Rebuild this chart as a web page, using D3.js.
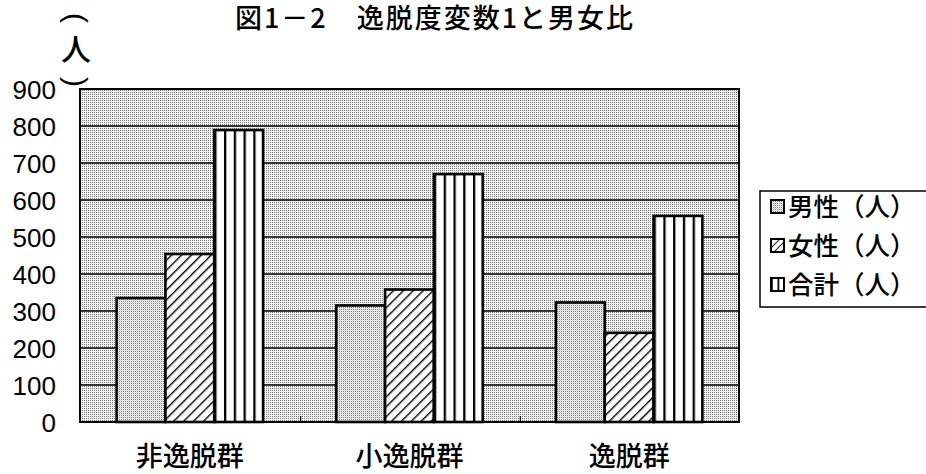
<!DOCTYPE html>
<html><head><meta charset="utf-8">
<script src="https://cdn.jsdelivr.net/npm/d3@7"></script>
<style>
html,body{margin:0;padding:0;background:#fff;}
svg{display:block;}
</style></head>
<body>
<svg id="chart" width="926" height="474"></svg>
<script>
const title = "図1－2　逸脱度変数1と男女比";
const categories = ["非逸脱群", "小逸脱群", "逸脱群"];
const seriesNames = ["男性（人）", "女性（人）", "合計（人）"];
const male = [335, 315, 323];
const female = [454, 358, 241];
const total = [789, 670, 557];
const yTicks = [0, 100, 200, 300, 400, 500, 600, 700, 800, 900];
const yUnit = ["(", "人", ")"];

const svg = d3.select("#chart");
const M = {left: 80, right: 739, top: 89, bottom: 422};
const y = d3.scaleLinear().domain([0, 900]).range([M.bottom, M.top]);
const x0 = d3.scaleBand().domain(categories).range([M.left, M.right]).paddingInner(0).paddingOuter(0);
const x1 = d3.scaleBand().domain(seriesNames).range([0, x0.bandwidth()]).paddingInner(0).paddingOuter(0.75);

const defs = svg.append("defs");
// stipple background
const bg = defs.append("pattern").attr("id","stip").attr("patternUnits","userSpaceOnUse").attr("width",2).attr("height",2);
bg.append("rect").attr("width",2).attr("height",2).attr("fill","#f2f2f2");
bg.append("rect").attr("x",0).attr("y",0).attr("width",1).attr("height",1).attr("fill","#7c7c7c");
// male stipple
const mp = defs.append("pattern").attr("id","stipM").attr("patternUnits","userSpaceOnUse").attr("width",2).attr("height",2);
mp.append("rect").attr("width",2).attr("height",2).attr("fill","#f2f2f2");
mp.append("rect").attr("x",1).attr("y",1).attr("width",1).attr("height",1).attr("fill","#808080");
mp.append("rect").attr("x",0).attr("y",0).attr("width",1).attr("height",1).attr("fill","#d8d8d8");
// female hatch
const fp = defs.append("pattern").attr("id","hatch").attr("patternUnits","userSpaceOnUse").attr("width",7).attr("height",7).attr("patternTransform","rotate(45)");
fp.append("rect").attr("width",7).attr("height",7).attr("fill","#fff");
fp.append("line").attr("x1",0).attr("y1",0).attr("x2",0).attr("y2",7).attr("stroke","#000").attr("stroke-width",2.8);
// total vertical stripes, one per category so stripes align with bar
categories.forEach((c,i)=>{
  const bx = x0(c) + x1(seriesNames[2]);
  const p = defs.append("pattern").attr("id","vs"+i).attr("patternUnits","userSpaceOnUse")
    .attr("x", bx).attr("y",0).attr("width", x1.bandwidth()/5).attr("height", 10);
  p.append("rect").attr("width", x1.bandwidth()/5).attr("height",10).attr("fill","#fff");
  p.append("line").attr("x1",0).attr("x2",0).attr("y1",0).attr("y2",10).attr("stroke","#000").attr("stroke-width",4.6);
});
// legend swatch patterns
const lvs = defs.append("pattern").attr("id","lvs").attr("patternUnits","userSpaceOnUse").attr("x",771).attr("width",6.5).attr("height",5);
lvs.append("rect").attr("width",6.5).attr("height",5).attr("fill","#fff");
lvs.append("line").attr("x1",0).attr("x2",0).attr("y1",0).attr("y2",5).attr("stroke","#000").attr("stroke-width",3.5);
const lh = defs.append("pattern").attr("id","lhatch").attr("patternUnits","userSpaceOnUse").attr("width",5).attr("height",5).attr("patternTransform","rotate(45)");
lh.append("rect").attr("width",5).attr("height",5).attr("fill","#fff");
lh.append("line").attr("x1",0).attr("y1",0).attr("x2",0).attr("y2",5).attr("stroke","#000").attr("stroke-width",1.6);

// plot background
svg.append("rect").attr("x",M.left).attr("y",M.top).attr("width",M.right-M.left).attr("height",M.bottom-M.top)
  .attr("fill","url(#stip)");

// gridlines
svg.append("g").selectAll("line").data(yTicks.filter(d=>d>0)).join("line")
  .attr("x1",M.left).attr("x2",M.right).attr("y1",d=>y(d)).attr("y2",d=>y(d))
  .attr("stroke","#000").attr("stroke-width",1.6);

// plot border
svg.append("rect").attr("x",M.left).attr("y",M.top).attr("width",M.right-M.left).attr("height",M.bottom-M.top)
  .attr("fill","none").attr("stroke","#000").attr("stroke-width",2);

// category separator ticks
svg.append("g").selectAll("line").data(categories.slice(1)).join("line")
  .attr("x1",d=>x0(d)+1).attr("x2",d=>x0(d)+1).attr("y1",M.bottom).attr("y2",M.bottom-6)
  .attr("stroke","#000").attr("stroke-width",1.2);

// bars
const series = [male, female, total];
const fills = [()=>"url(#stipM)", ()=>"url(#hatch)", i=>"url(#vs"+i+")"];
seriesNames.forEach((s,si)=>{
  svg.append("g").selectAll("rect").data(categories).join("rect")
    .attr("x",(c)=>x0(c)+x1(s))
    .attr("y",(c,i)=>y(series[si][i]))
    .attr("width",x1.bandwidth())
    .attr("height",(c,i)=>y(0)-y(series[si][i]))
    .attr("fill",(c,i)=>fills[si](i))
    .attr("stroke","#000").attr("stroke-width",2.6);
});

// y tick labels
svg.append("g").selectAll("text").data(yTicks).join("text")
  .attr("x",56).attr("y",d=>y(d)+9.5)
  .attr("text-anchor","end")
  .attr("font-family","Liberation Sans, Arial, sans-serif")
  .attr("font-size",26)
  .attr("fill","#000")
  .text(d=>d);

// y unit (vertical): parentheses rotated, character upright
const uy = [18, 47, 82];
svg.append("g").selectAll("text").data(yUnit).join("text")
  .attr("transform",(d,i)=>`translate(76,${uy[i]}) rotate(${i===1?0:90})`)
  .attr("text-anchor","middle")
  .attr("dominant-baseline","central")
  .attr("font-family",(d,i)=>i===1?"Noto Sans CJK JP":"Liberation Sans")
  .attr("font-weight",(d,i)=>i===1?500:400)
  .attr("font-size",30)
  .attr("fill","#000")
  .text(d=>d);

// category labels
svg.append("g").selectAll("text").data(categories).join("text")
  .attr("x",c=>x0(c)+x0.bandwidth()/2).attr("y",466)
  .attr("text-anchor","middle")
  .attr("font-family","Noto Sans CJK JP")
  .attr("font-weight",500)
  .attr("font-size",27)
  .attr("fill","#000")
  .text(c=>c);

// title
svg.append("text").attr("x",435).attr("y",28).attr("text-anchor","middle")
  .attr("font-family","Noto Sans CJK JP").attr("font-weight",500).attr("font-size",27).attr("letter-spacing",2).attr("fill","#000")
  .text(title);

// legend
const lg = svg.append("g");
lg.append("rect").attr("x",760).attr("y",191).attr("width",175).attr("height",116)
  .attr("fill","#fff").attr("stroke","#000").attr("stroke-width",1.5);
const swFill = ["url(#stipM)","url(#lhatch)","url(#lvs)"];
seriesNames.forEach((s,i)=>{
  const cy = 206 + i*39;
  lg.append("rect").attr("x",771).attr("y",cy-6).attr("width",13).attr("height",13)
    .attr("fill",swFill[i]).attr("stroke","#000").attr("stroke-width",2);
  lg.append("text").attr("x",788).attr("y",cy+10)
    .attr("font-family","Noto Sans CJK JP").attr("font-weight",500).attr("font-size",25.5).attr("fill","#000")
    .text(s);
});
</script>
</body></html>
